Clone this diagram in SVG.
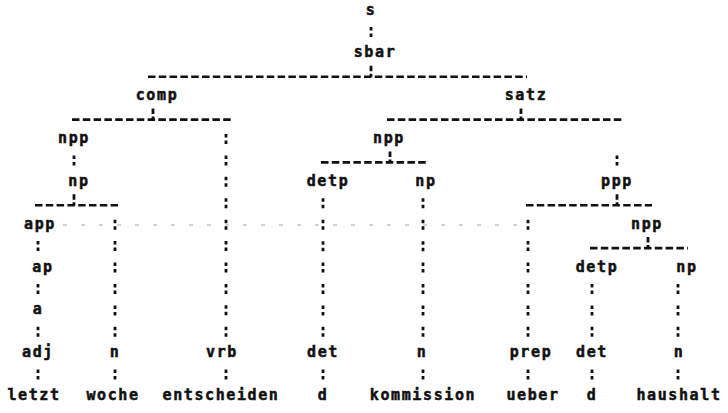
<svg xmlns="http://www.w3.org/2000/svg" width="728" height="413" viewBox="0 0 728 413">
<style>
text{font-family:"DejaVu Sans Mono","Liberation Mono",monospace;font-weight:bold;font-size:15px;letter-spacing:1.6px;fill:#111;stroke:#111;stroke-width:0.5;text-anchor:middle}
.h{stroke:#111;stroke-width:2.6;stroke-dasharray:7.5 3.3;fill:none}
.v{stroke:#111;stroke-width:2.8;stroke-dasharray:3.5 3 3.5 11.42;fill:none}
.t{stroke:#111;stroke-width:2.8;stroke-dasharray:5.5 2.5 3;fill:none}
.f{stroke:#aaa;stroke-width:1;stroke-dasharray:4 14;fill:none}
</style>
<rect width="728" height="413" fill="#fff"/>
<g id="connectors">
<line class="f" x1="63" y1="225" x2="520" y2="225"/>
<line class="h" x1="148" y1="76.8" x2="527" y2="76.8"/>
<line class="h" x1="72" y1="119.6" x2="232" y2="119.6"/>
<line class="h" x1="387" y1="119.6" x2="622" y2="119.6"/>
<line class="h" x1="321" y1="162.4" x2="426" y2="162.4"/>
<line class="h" x1="35" y1="205.3" x2="120" y2="205.3"/>
<line class="h" x1="526" y1="205.3" x2="652" y2="205.3"/>
<line class="h" x1="590" y1="248.1" x2="688" y2="248.1"/>
<line class="t" x1="371" y1="65.8" x2="371" y2="76.8"/>
<line class="t" x1="153" y1="108.6" x2="153" y2="119.6"/>
<line class="t" x1="521" y1="108.6" x2="521" y2="119.6"/>
<line class="t" x1="390" y1="151.4" x2="390" y2="162.4"/>
<line class="t" x1="74" y1="194.3" x2="74" y2="205.3"/>
<line class="t" x1="617" y1="194.3" x2="617" y2="205.3"/>
<line class="t" x1="648" y1="237.1" x2="648" y2="248.1"/>
<line class="v" x1="371" y1="26.9" x2="371" y2="36.9"/>
<line class="v" x1="74" y1="155.4" x2="74" y2="165.4"/>
<line class="v" x1="617" y1="155.4" x2="617" y2="165.4"/>
<line class="v" x1="226" y1="134" x2="226" y2="336.8"/>
<line class="v" x1="323" y1="198.3" x2="323" y2="336.8"/>
<line class="v" x1="423" y1="198.3" x2="423" y2="336.8"/>
<line class="v" x1="115" y1="219.7" x2="115" y2="336.8"/>
<line class="v" x1="528" y1="219.7" x2="528" y2="336.8"/>
<line class="v" x1="592" y1="284" x2="592" y2="336.8"/>
<line class="v" x1="678" y1="284" x2="678" y2="336.8"/>
<line class="v" x1="38" y1="241.1" x2="38" y2="251.1"/>
<line class="v" x1="38" y1="284" x2="38" y2="294"/>
<line class="v" x1="38" y1="326.8" x2="38" y2="336.8"/>
<line class="v" x1="38" y1="369.6" x2="38" y2="379.6"/>
<line class="v" x1="115" y1="369.6" x2="115" y2="379.6"/>
<line class="v" x1="226" y1="369.6" x2="226" y2="379.6"/>
<line class="v" x1="323" y1="369.6" x2="323" y2="379.6"/>
<line class="v" x1="423" y1="369.6" x2="423" y2="379.6"/>
<line class="v" x1="528" y1="369.6" x2="528" y2="379.6"/>
<line class="v" x1="592" y1="369.6" x2="592" y2="379.6"/>
<line class="v" x1="678" y1="369.6" x2="678" y2="379.6"/>
</g>
<g id="n-s"><text x="371" y="14.5">s</text></g>
<g id="n-sbar"><text x="375" y="57.3">sbar</text></g>
<g id="n-comp"><text x="157" y="100.2">comp</text></g>
<g id="n-satz"><text x="526" y="100.2">satz</text></g>
<g id="n-npp1"><text x="74" y="143">npp</text></g>
<g id="n-npp2"><text x="389" y="143">npp</text></g>
<g id="n-np1"><text x="79" y="185.9">np</text></g>
<g id="n-detp1"><text x="328" y="185.9">detp</text></g>
<g id="n-np2"><text x="426" y="185.9">np</text></g>
<g id="n-ppp"><text x="617" y="185.9">ppp</text></g>
<g id="n-app"><text x="40" y="228.7">app</text></g>
<g id="n-npp3"><text x="647" y="228.7">npp</text></g>
<g id="n-ap"><text x="43" y="271.5">ap</text></g>
<g id="n-detp2"><text x="597" y="271.5">detp</text></g>
<g id="n-np3"><text x="687" y="271.5">np</text></g>
<g id="n-a"><text x="38" y="314.4">a</text></g>
<g id="n-adj"><text x="38" y="357.2">adj</text></g>
<g id="n-n1"><text x="115" y="357.2">n</text></g>
<g id="n-vrb"><text x="222" y="357.2">vrb</text></g>
<g id="n-det1"><text x="323" y="357.2">det</text></g>
<g id="n-n2"><text x="422" y="357.2">n</text></g>
<g id="n-prep"><text x="531" y="357.2">prep</text></g>
<g id="n-det2"><text x="592" y="357.2">det</text></g>
<g id="n-n3"><text x="679" y="357.2">n</text></g>
<g id="w-letzt"><text x="34" y="400.1">letzt</text></g>
<g id="w-woche"><text x="113" y="400.1">woche</text></g>
<g id="w-entscheiden"><text x="221" y="400.1">entscheiden</text></g>
<g id="w-d1"><text x="323" y="400.1">d</text></g>
<g id="w-kommission"><text x="423" y="400.1">kommission</text></g>
<g id="w-ueber"><text x="533" y="400.1">ueber</text></g>
<g id="w-d2"><text x="592" y="400.1">d</text></g>
<g id="w-haushalt"><text x="679" y="400.1">haushalt</text></g>
</svg>
